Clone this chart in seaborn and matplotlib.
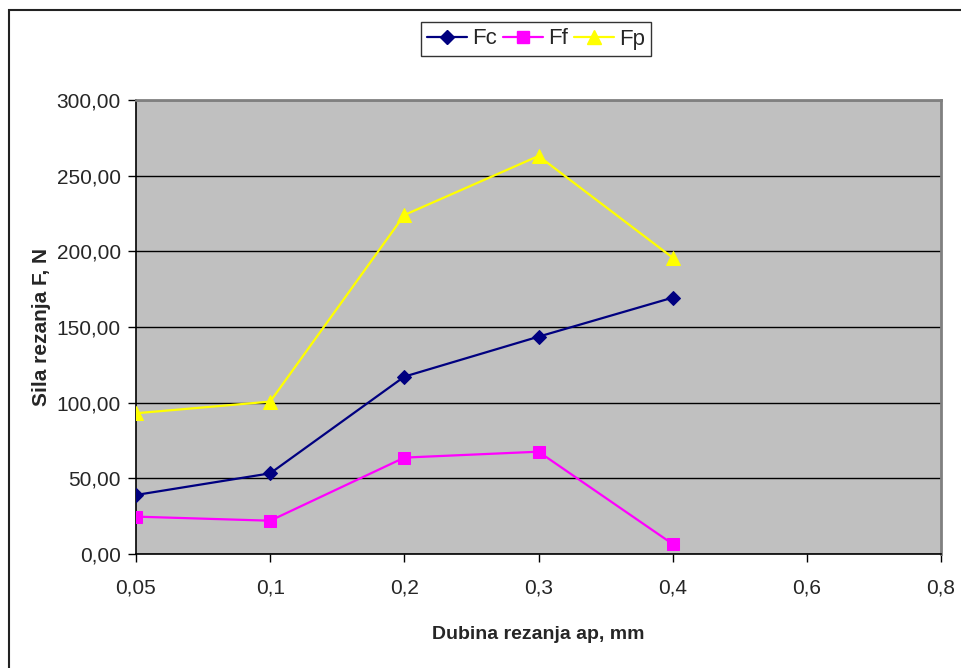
import matplotlib
matplotlib.use("Agg")
import matplotlib.pyplot as plt
import numpy as np
import pandas as pd
import seaborn as sns
from matplotlib.lines import Line2D
from matplotlib.patches import Rectangle

# dubina rezanja ap (kategorije na x osi)
depths = ["0,05", "0,1", "0,2", "0,3", "0,4", "0,6", "0,8"]

fc = [39.0, 53.3, 117.2, 143.6, 169.4]
ff = [24.7, 22.0, 63.7, 67.6, 6.6]
fp = [93.0, 100.7, 224.0, 263.0, 195.8]

series = ["Fc", "Ff", "Fp"]
colors = {"Fc": "#000080", "Ff": "#FF00FF", "Fp": "#FFFF00"}
markers = {"Fc": "D", "Ff": "s", "Fp": "^"}
msizes = {"Fc": 7, "Ff": 8, "Fp": 10}

rows = []
for name, vals in zip(series, [fc, ff, fp]):
    for i, v in enumerate(vals):
        rows.append({"pos": i, "ap": depths[i], "F": v, "sila": name})
df = pd.DataFrame(rows)

sns.set_style("white")
plt.rcParams["font.family"] = ["Liberation Sans", "DejaVu Sans"]

fig = plt.figure(figsize=(9.61, 6.68), dpi=100)
ax = fig.add_axes([136 / 961, 1 - 554 / 668, (941 - 136) / 961, (554 - 100) / 668])
ax.set_facecolor("#C0C0C0")

for name in series:
    sns.lineplot(data=df[df["sila"] == name], x="pos", y="F", ax=ax,
                 color=colors[name], marker=markers[name], markersize=msizes[name],
                 markeredgecolor=colors[name], linewidth=1.6,
                 legend=False, zorder=3)

ax.set_xlim(0, len(depths) - 1)
ax.set_ylim(0, 300)
ax.set_xticks(range(len(depths)))
ax.set_xticklabels(depths)
yt = np.arange(0, 301, 50)
ax.set_yticks(yt)
ax.set_yticklabels([f"{v:.2f}".replace(".", ",") for v in yt])
ax.yaxis.grid(True, color="black", linewidth=1.0)
ax.xaxis.grid(False)
ax.set_axisbelow(True)

ax.tick_params(axis="both", direction="out", length=6, width=1, color="black",
               labelsize=15, pad=5, left=True, bottom=True)
ax.tick_params(axis="x", pad=12)

for s in ["left", "bottom"]:
    ax.spines[s].set_color("black")
    ax.spines[s].set_linewidth(1.2)
for s in ["top", "right"]:
    ax.spines[s].set_color("#808080")
    ax.spines[s].set_linewidth(2)

ax.set_xlabel("Dubina rezanja ap, mm", fontsize=14, fontweight="bold", labelpad=20)
ax.set_ylabel("Sila rezanja F, N", fontsize=15, fontweight="bold", labelpad=4)

handles = [Line2D([0], [0], color=colors[n], marker=markers[n], markersize=msizes[n],
                  markeredgecolor=colors[n], linewidth=1.6) for n in series]
leg = fig.legend(handles, series, loc="center", bbox_to_anchor=(536 / 961, 1 - 39 / 668),
                 ncol=3, frameon=True, fancybox=False, fontsize=16, handlelength=1.8,
                 columnspacing=0.3, handletextpad=0.2, borderpad=0.3)
leg.get_frame().set_edgecolor("black")
leg.get_frame().set_linewidth(1.0)

# okvir grafikona
fig.patches.append(Rectangle((8.5 / 961, -0.01), 1.0, 1 - 10 / 668 + 0.01,
                             transform=fig.transFigure, fill=False,
                             edgecolor="#222222", linewidth=1.5))

fig.savefig("out.png", dpi=100)
